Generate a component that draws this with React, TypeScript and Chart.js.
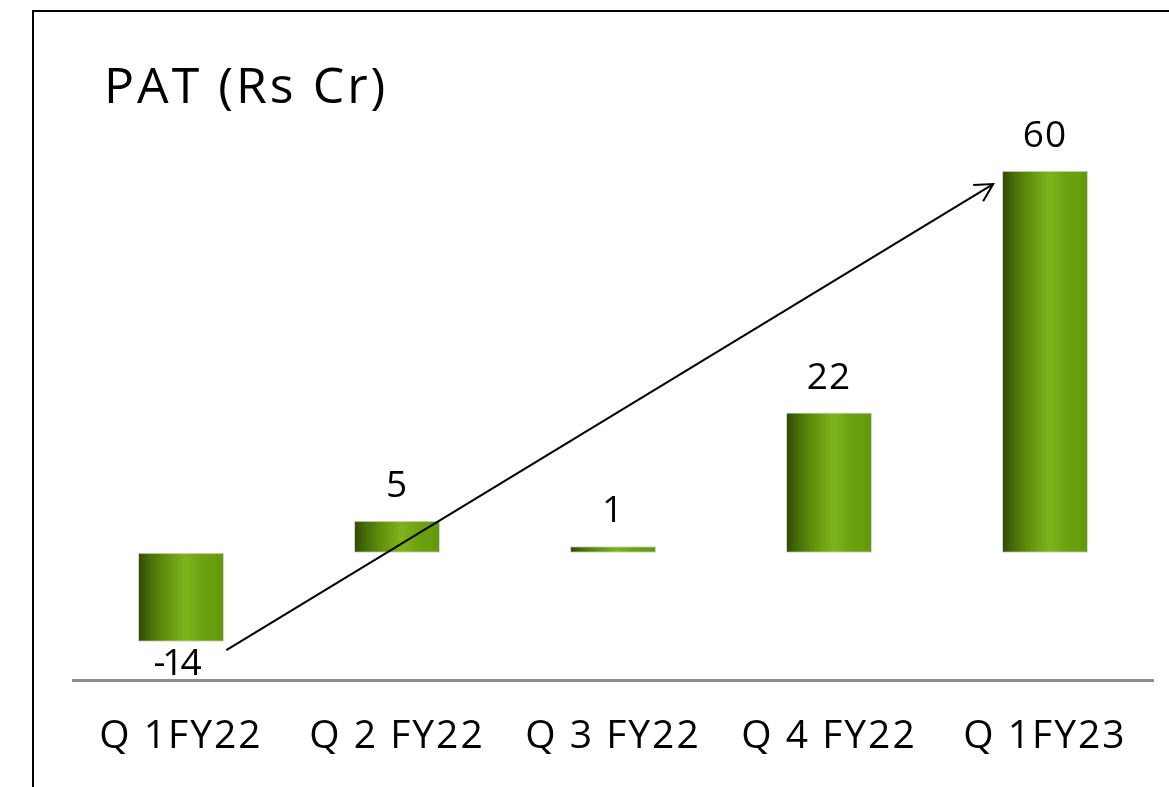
import { useEffect, useRef } from "react";
import { Chart, registerables } from "chart.js";

Chart.register(...registerables);

// Quarterly profit after tax, Rs crore
const categories = ["Q 1FY22", "Q 2 FY22", "Q 3 FY22", "Q 4 FY22", "Q 1FY23"];
const patValues = [-14, 5, 1, 22, 60];
const valueLabels = ["-14", "5", "1", "22", "60"];
const yRange = [-20, 70];
// Trend arrow ends as [category index, value]
const arrowFrom = [0.21, -15.3];
const arrowTo = [3.76, 57.9];
const titleText = "PAT (Rs Cr)";

const FONT = "'Open Sans', 'Noto Sans', sans-serif";
const BAR_PCT = 0.398;

function barGradient(ctx: any) {
  const chart = ctx.chart;
  const x = chart.scales?.x;
  const fallback = "#6c9d12";
  if (!x) return fallback;
  const step = x.getPixelForValue(1) - x.getPixelForValue(0);
  const cx = x.getPixelForValue(ctx.dataIndex);
  const half = (step * BAR_PCT) / 2;
  if (!Number.isFinite(cx) || !Number.isFinite(half) || half <= 0) return fallback;
  const g = chart.ctx.createLinearGradient(cx - half, 0, cx + half, 0);
  g.addColorStop(0, "#2e4705");
  g.addColorStop(0.12, "#456a08");
  g.addColorStop(0.3, "#5d8e0b");
  g.addColorStop(0.55, "#7fb51b");
  g.addColorStop(0.72, "#6ea412");
  g.addColorStop(1, "#62990c");
  return g;
}

const decorPlugin = {
  id: "decor",
  beforeDraw(chart: any) {
    const ctx = chart.ctx;
    ctx.save();
    ctx.strokeStyle = "#000";
    ctx.lineWidth = 2;
    ctx.strokeRect(33, 11, 1300, 900);
    ctx.fillStyle = "#000";
    ctx.font = `50px ${FONT}`;
    (ctx as any).letterSpacing = "3px";
    ctx.textBaseline = "alphabetic";
    ctx.textAlign = "left";
    ctx.fillText(titleText, 104, 103);
    ctx.restore();
  },
  afterDatasetsDraw(chart: any) {
    const ctx = chart.ctx;
    const x = chart.scales.x;
    const y = chart.scales.y;
    const meta = chart.getDatasetMeta(0);
    ctx.save();
    ctx.fillStyle = "#000";
    ctx.font = `37px ${FONT}`;
    ctx.textAlign = "center";
    ctx.textBaseline = "alphabetic";
    meta.data.forEach((bar: any, i: number) => {
      const v = patValues[i];
      (ctx as any).letterSpacing = v < 0 ? "-3px" : "1px";
      const ty = v >= 0 ? bar.y - 24 : bar.y + 33;
      ctx.fillText(valueLabels[i], bar.x - (v < 0 ? 5 : 0), ty);
    });

    const x0 = x.getPixelForValue(0);
    const step = x.getPixelForValue(1) - x0;
    const sx = x0 + arrowFrom[0] * step;
    const sy = y.getPixelForValue(arrowFrom[1]);
    const ex = x0 + arrowTo[0] * step;
    const ey = y.getPixelForValue(arrowTo[1]);
    ctx.strokeStyle = "#000";
    ctx.lineWidth = 2;
    ctx.beginPath();
    ctx.moveTo(sx, sy);
    ctx.lineTo(ex, ey);
    ctx.stroke();
    const ang = Math.atan2(ey - sy, ex - sx);
    const len = 20;
    const spread = 0.5;
    ctx.beginPath();
    ctx.moveTo(ex - len * Math.cos(ang - spread), ey - len * Math.sin(ang - spread));
    ctx.lineTo(ex, ey);
    ctx.lineTo(ex - len * Math.cos(ang + spread), ey - len * Math.sin(ang + spread));
    ctx.stroke();
    ctx.restore();
  },
};

// Category labels are drawn with wider tracking than Chart.js tick text allows
const tickSpacingPlugin = {
  id: "tickSpacing",
  beforeDraw(chart: any) {
    (chart.ctx as any).letterSpacing = "2px";
  },
  afterDraw(chart: any) {
    (chart.ctx as any).letterSpacing = "0px";
  },
};

export default function App() {
  const ref = useRef<HTMLCanvasElement | null>(null);

  useEffect(() => {
    if (!ref.current) return;
    const chart = new Chart(ref.current, {
      type: "bar",
      data: {
        labels: categories,
        datasets: [
          {
            data: patValues,
            backgroundColor: barGradient,
            borderColor: "rgba(205,205,205,0.9)",
            borderWidth: 1,
            borderSkipped: false,
            barPercentage: BAR_PCT,
            categoryPercentage: 1,
          },
        ],
      },
      options: {
        responsive: false,
        animation: false,
        events: [],
        layout: { padding: { top: 107, left: 73, right: 16, bottom: 0 } },
        plugins: {
          legend: { display: false },
          title: { display: false },
          tooltip: { enabled: false },
        },
        scales: {
          x: {
            grid: { display: false },
            border: { display: true, color: "#8c8c8c", width: 3 },
            ticks: {
              color: "#000",
              font: { family: FONT, size: 39 },
              padding: 25,
              maxRotation: 0,
              autoSkip: false,
            },
            afterFit: (s: any) => {
              s.height = 107;
            },
          },
          y: {
            display: false,
            min: yRange[0],
            max: yRange[1],
          },
        },
      },
      plugins: [tickSpacingPlugin, decorPlugin],
    });
    chart.update();
    return () => chart.destroy();
  }, []);

  return (
    <div style={{ position: "absolute", left: 0, top: 0, width: 1169, height: 787, background: "#fff" }}>
      <canvas ref={ref} width={1169} height={787} />
    </div>
  );
}
